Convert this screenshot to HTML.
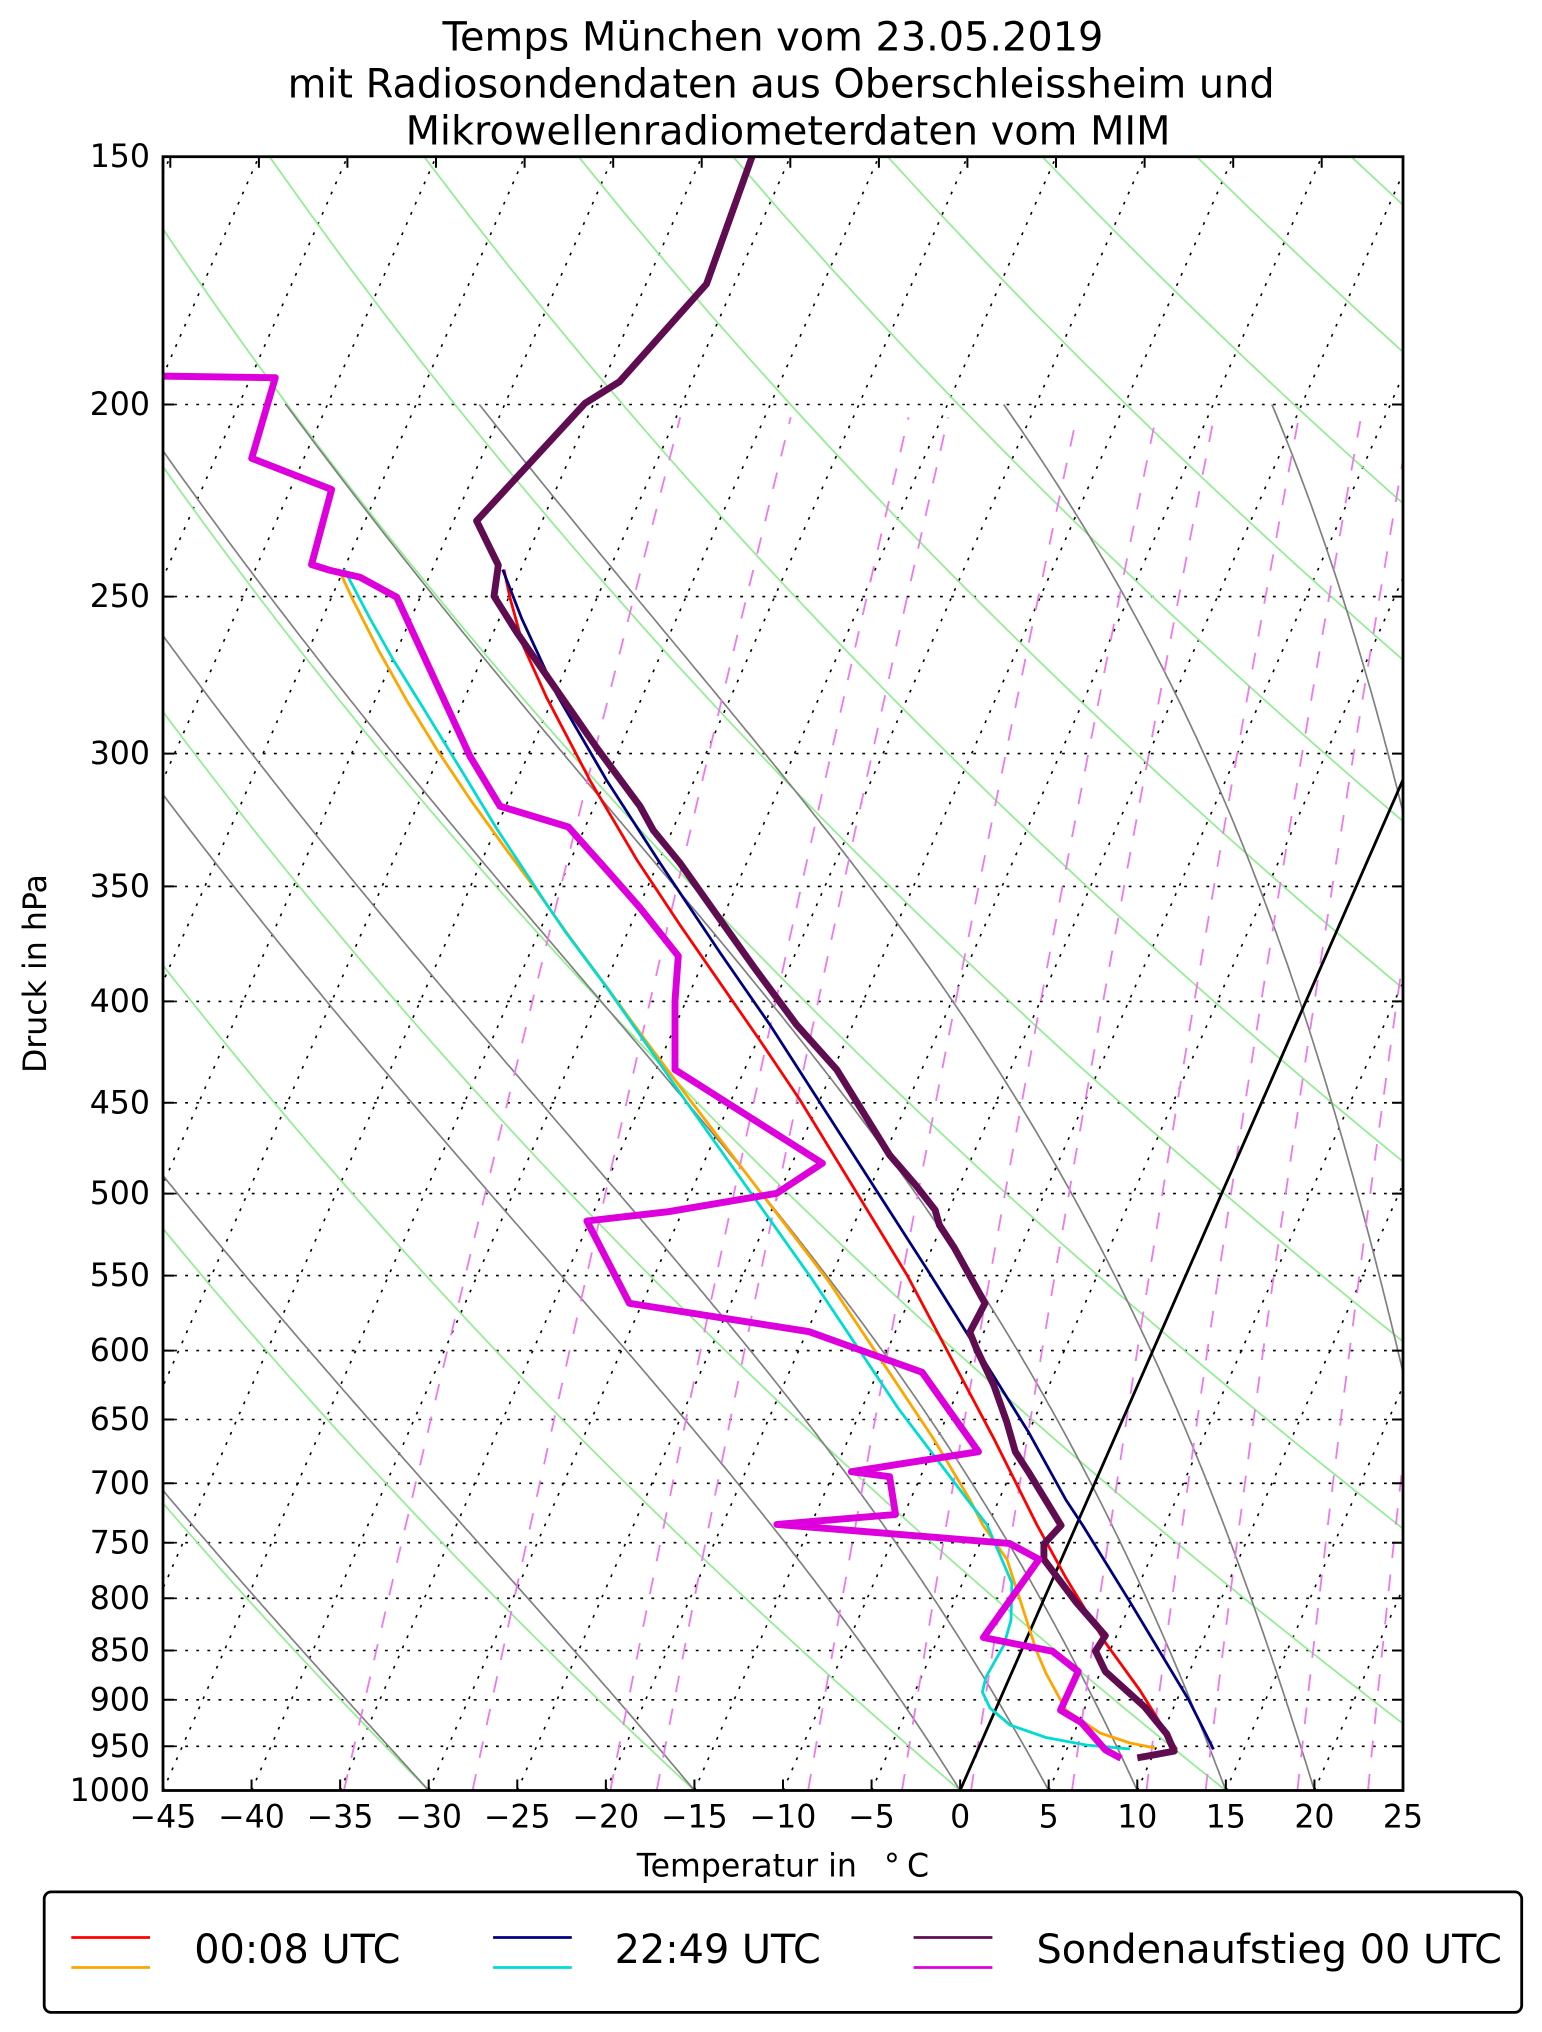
<!DOCTYPE html>
<html><head><meta charset="utf-8">
<style>
html,body{margin:0;padding:0;background:#fff;}
body{width:1542px;height:2032px;overflow:hidden;}
svg{display:block;}
text{font-family:"DejaVu Sans","Liberation Sans",sans-serif;fill:#000;}
</style></head><body>
<svg id="s" width="1542" height="2032" viewBox="0 0 1542 2032" xmlns="http://www.w3.org/2000/svg">
<defs><clipPath id="ax"><rect x="163" y="156.7" width="1240" height="1633.8"/></clipPath></defs>
<rect width="1542" height="2032" fill="#fff"/>

<!-- Title -->
<text x="442.5" y="50.7" font-size="39.8">Temps München vom 23.05.2019</text>
<text x="287.6" y="97.5" font-size="39.8">mit Radiosondendaten aus Oberschleissheim und</text>
<text x="405.6" y="144.3" font-size="39.8">Mikrowellenradiometerdaten vom MIM</text>

<g clip-path="url(#ax)">
  <g id="grid" fill="none" stroke="#000" stroke-width="1.6" stroke-dasharray="2.8 8.3"></g>
  <g id="dry" fill="none" stroke="#90ee90" stroke-width="1.7"></g>
  <g id="moist" fill="none" stroke="#808080" stroke-width="1.7"></g>
  <g id="mix" fill="none" stroke="#ee78ee" stroke-width="1.8" stroke-dasharray="16.7 16.7"></g>
  <line x1="960.1" y1="1790.5" x2="1676" y2="156.7" stroke="#000" stroke-width="2.8"/>

  <g fill="none" stroke-linejoin="round" stroke-linecap="butt">
    <polyline stroke="#ff0000" stroke-width="2.8" points="504,569.6 510,597.9 523.3,646.1 546.7,697.7 590,780.4 636.7,859.6 680,925 730,997.3 761,1042 800,1100 907,1275 993.7,1438.3 1037,1525 1066,1578 1105.3,1642.5 1139.7,1690 1176.6,1749.4"/>
    <polyline stroke="#ffa500" stroke-width="2.8" points="340,572 353,600 378.4,650 406.4,700 437.2,750 470.6,800 506.6,850 536.7,890.6 571,938.8 606.7,987 646.7,1042.1 690,1100 828.9,1281.7 933,1438 970.1,1500 982.8,1525 1007,1559.4 1036.5,1651 1046,1673.3 1066,1710 1100,1733 1130,1743 1155,1748"/>
    <polyline stroke="#000080" stroke-width="2.8" points="502.7,569.6 521.7,618.5 556.7,694.3 606.7,780.4 660,863 720,952.6 770,1024.9 818.3,1100 928.6,1271.7 1028.3,1431.7 1066,1500 1082.5,1525 1129.9,1601.8 1188.9,1700.2 1205.5,1733.3 1213.5,1749.4"/>
    <polyline stroke="#00dcd2" stroke-width="2.8" points="344,569.1 370,618.5 393.3,659.9 423.3,708.1 463.3,773.5 496.7,828.6 546.7,904.4 565.4,931.9 604,983.6 645,1042.1 685,1100 811.5,1278.3 898.2,1408.3 967.7,1500 987.1,1525 1011.9,1583 1011,1620 1004,1645 986,1677 982.4,1692 990,1708 1010,1725 1046,1737.5 1086,1745 1130,1749"/>
    <polyline stroke="#600c50" stroke-width="6.9" points="758,140 706.5,284 619.5,381.7 585,403.3 476.6,520.9 498.3,565.2 494,596.2 516.7,632.3 550,680.5 596.7,747.7 640,806.2 653.3,830.3 680,863 716.7,914.7 753.3,966.3 796.7,1024.9 836.7,1069.6 889.6,1155 915.6,1185 935.1,1210 939.4,1225 954.6,1248.3 985,1303.3 969.8,1332.3 976.3,1348.3 993.7,1385 1006.7,1421.7 1015.3,1451.7 1028.3,1471.7 1061.1,1525.4 1043.9,1544.1 1043.9,1559.4 1075.8,1601.8 1105.3,1635.7 1095.5,1651 1105.3,1671.4 1144.7,1707 1166.8,1734.1 1174.2,1751.1 1137.3,1757.9"/>
    <polyline stroke="#dd00dd" stroke-width="6.9" points="140,375.8 275.3,377.7 251.7,458.3 331.6,489.5 311.5,564.6 330,570.3 360,577.2 396.7,597.2 470,756.3 500,806.2 568.3,826.9 606.7,869.9 640,907.8 678.3,956 675,1000.8 675,1069.6 822.4,1163.3 776.8,1193.3 668.4,1211.7 586.9,1221 629.4,1303.3 809.3,1331.7 922.1,1372.3 978.5,1451.7 851.4,1471.7 889.6,1476.7 895.5,1514.5 776.9,1524.4 1009.5,1543.4 1039,1559.4 983.4,1637.5 1052.5,1651.3 1078.2,1671.5 1060.5,1710.2 1081.3,1722.5 1105.5,1750 1121,1758.4"/>
  </g>
</g>

<!-- Spines -->
<rect x="163" y="156.7" width="1240" height="1633.8" fill="none" stroke="#000" stroke-width="2.8"/>

<!-- Ticks -->
<g stroke="#000" stroke-width="2">
  <path d="M163 1790.5v-11M251.57 1790.5v-11M340.14 1790.5v-11M428.71 1790.5v-11M517.29 1790.5v-11M605.86 1790.5v-11M694.43 1790.5v-11M783 1790.5v-11M871.57 1790.5v-11M960.14 1790.5v-11M1048.71 1790.5v-11M1137.29 1790.5v-11M1225.86 1790.5v-11M1314.43 1790.5v-11M1403 1790.5v-11"/>
  <path d="M170.3 156.7v11M258.9 156.7v11M347.4 156.7v11M436 156.7v11M524.6 156.7v11M613.2 156.7v11M701.7 156.7v11M790.3 156.7v11M878.9 156.7v11M967.4 156.7v11M1056 156.7v11M1144.6 156.7v11M1233.2 156.7v11M1321.7 156.7v11"/>
  <path d="M163 156.7h11M163 404.45h11M163 596.6h11M163 753.6h11M163 886.4h11M163 1001.4h11M163 1102.8h11M163 1193.6h11M163 1275.6h11M163 1350.6h11M163 1419.5h11M163 1483.3h11M163 1542.8h11M163 1598.3h11M163 1650.5h11M163 1699.8h11M163 1746.3h11M163 1790.5h11"/>
  <path d="M1403 156.7h-11M1403 404.45h-11M1403 596.6h-11M1403 753.6h-11M1403 886.4h-11M1403 1001.4h-11M1403 1102.8h-11M1403 1193.6h-11M1403 1275.6h-11M1403 1350.6h-11M1403 1419.5h-11M1403 1483.3h-11M1403 1542.8h-11M1403 1598.3h-11M1403 1650.5h-11M1403 1699.8h-11M1403 1746.3h-11M1403 1790.5h-11"/>
</g>

<!-- Y tick labels -->
<g font-size="31.6" text-anchor="end">
  <text x="150" y="167.2">150</text>
  <text x="150" y="414.9">200</text>
  <text x="150" y="607.1">250</text>
  <text x="150" y="764.1">300</text>
  <text x="150" y="896.9">350</text>
  <text x="150" y="1011.9">400</text>
  <text x="150" y="1113.3">450</text>
  <text x="150" y="1204.1">500</text>
  <text x="150" y="1286.1">550</text>
  <text x="150" y="1361.1">600</text>
  <text x="150" y="1430">650</text>
  <text x="150" y="1493.8">700</text>
  <text x="150" y="1553.3">750</text>
  <text x="150" y="1608.8">800</text>
  <text x="150" y="1661">850</text>
  <text x="150" y="1710.3">900</text>
  <text x="150" y="1756.8">950</text>
  <text x="150" y="1801">1000</text>
</g>

<!-- X tick labels -->
<g font-size="31.6" text-anchor="middle">
  <text x="163" y="1827.5">−45</text>
  <text x="251.57" y="1827.5">−40</text>
  <text x="340.14" y="1827.5">−35</text>
  <text x="428.71" y="1827.5">−30</text>
  <text x="517.29" y="1827.5">−25</text>
  <text x="605.86" y="1827.5">−20</text>
  <text x="694.43" y="1827.5">−15</text>
  <text x="783" y="1827.5">−10</text>
  <text x="871.57" y="1827.5">−5</text>
  <text x="960.14" y="1827.5">0</text>
  <text x="1048.71" y="1827.5">5</text>
  <text x="1137.29" y="1827.5">10</text>
  <text x="1225.86" y="1827.5">15</text>
  <text x="1314.43" y="1827.5">20</text>
  <text x="1403" y="1827.5">25</text>
</g>

<!-- Axis labels -->
<text x="636.7" y="1876.7" font-size="31.6">Temperatur in</text>
<text x="884" y="1876.7" font-size="31.6">°</text>
<text x="907" y="1876.7" font-size="31.6">C</text>
<text transform="translate(46,973.6) rotate(-90)" text-anchor="middle" font-size="31.6">Druck in hPa</text>

<!-- Legend -->
<rect x="44.2" y="1891.9" width="1477.5" height="120.5" rx="7" ry="7" fill="#fff" stroke="#000" stroke-width="2.8"/>
<g stroke-width="2.8">
  <line x1="71.3" y1="1937.5" x2="150" y2="1937.5" stroke="#ff0000"/>
  <line x1="71.3" y1="1967.5" x2="150" y2="1967.5" stroke="#ffa500"/>
  <line x1="493.1" y1="1937.5" x2="571.8" y2="1937.5" stroke="#000080"/>
  <line x1="493.1" y1="1967.5" x2="571.8" y2="1967.5" stroke="#00dcd2"/>
  <line x1="913.6" y1="1937.5" x2="992.4" y2="1937.5" stroke="#600c50"/>
  <line x1="913.6" y1="1967.5" x2="992.4" y2="1967.5" stroke="#dd00dd"/>
</g>
<g font-size="39.8">
  <text x="194.2" y="1963.2">00:08 UTC</text>
  <text x="614.6" y="1963.2">22:49 UTC</text>
  <text x="1036.5" y="1963.2">Sondenaufstieg 00 UTC</text>
</g>
</svg>
<script>
(function(){
var L=163,B=1790.5,W=1240,H=1633.8,LN=Math.log(1000/150),TAN=Math.tan(Math.PI/6);
function Y(p){return Math.log(1000/p)/LN;}
function X(t,p){return L+W*((t+45)/70+TAN*Y(p));}
function PY(p){return B-H*Y(p);}
var NS='http://www.w3.org/2000/svg';
function add(g,pts){
  var e=document.createElementNS(NS,'path');
  var d='M'+pts.map(function(q){return q[0].toFixed(1)+' '+q[1].toFixed(1);}).join(' L');
  e.setAttribute('d',d);
  document.getElementById(g).appendChild(e);
}
var t,p;
for(t=-90;t<=25;t+=5){add('grid',[[X(t,1000),PY(1000)],[X(t,150),PY(150)]]);}
for(p=200;p<=950;p+=50){add('grid',[[L,PY(p)],[L+W,PY(p)]]);}
for(var t0=-45;t0<=240;t0+=15){
  var pts=[];
  for(p=1000;p>=150;p-=10){var tt=(t0+273.15)*Math.pow(p/1000,0.28571)-273.15;pts.push([X(tt,p),PY(p)]);}
  add('dry',pts);
}
function es(T){var c=T-273.15;return 6.112*Math.exp(17.67*c/(c+243.5));}
function f(p,T){var e=es(T);var rs=0.621957*e/(p-e);var Lv=2.50084e6,Rd=287.04749;
  return (Rd*T+Lv*rs)/(1004.6662+Lv*Lv*rs*0.621957/(Rd*T*T))/p;}
[-30,-15,0,5,10,15,20,30,35].forEach(function(s){
  var T=s+273.15,pp=1000,h=-2,pts=[[X(s,pp),PY(pp)]];
  while(pp>200.0001){
    var k1=f(pp,T),k2=f(pp+h/2,T+h/2*k1),k3=f(pp+h/2,T+h/2*k2),k4=f(pp+h,T+h*k3);
    T+=h/6*(k1+2*k2+2*k3+k4);pp+=h;pts.push([X(T-273.15,pp),PY(pp)]);
  }
  add('moist',pts);
});
[0.2,0.4,0.8,1,2,3,4,6,8,10,14,18].forEach(function(wg){
  var w=wg/1000,pts=[];
  var plist=[];for(p=1000;p>=210;p-=10)plist.push(p);plist.push(203);
  plist.forEach(function(pp){
    var e=pp*w/(0.621957+w);var v=Math.log(e/6.112);var td=243.5*v/(17.67-v);
    pts.push([X(td,pp),PY(pp)]);
  });
  add('mix',pts);
});
})();
</script>
</body></html>
